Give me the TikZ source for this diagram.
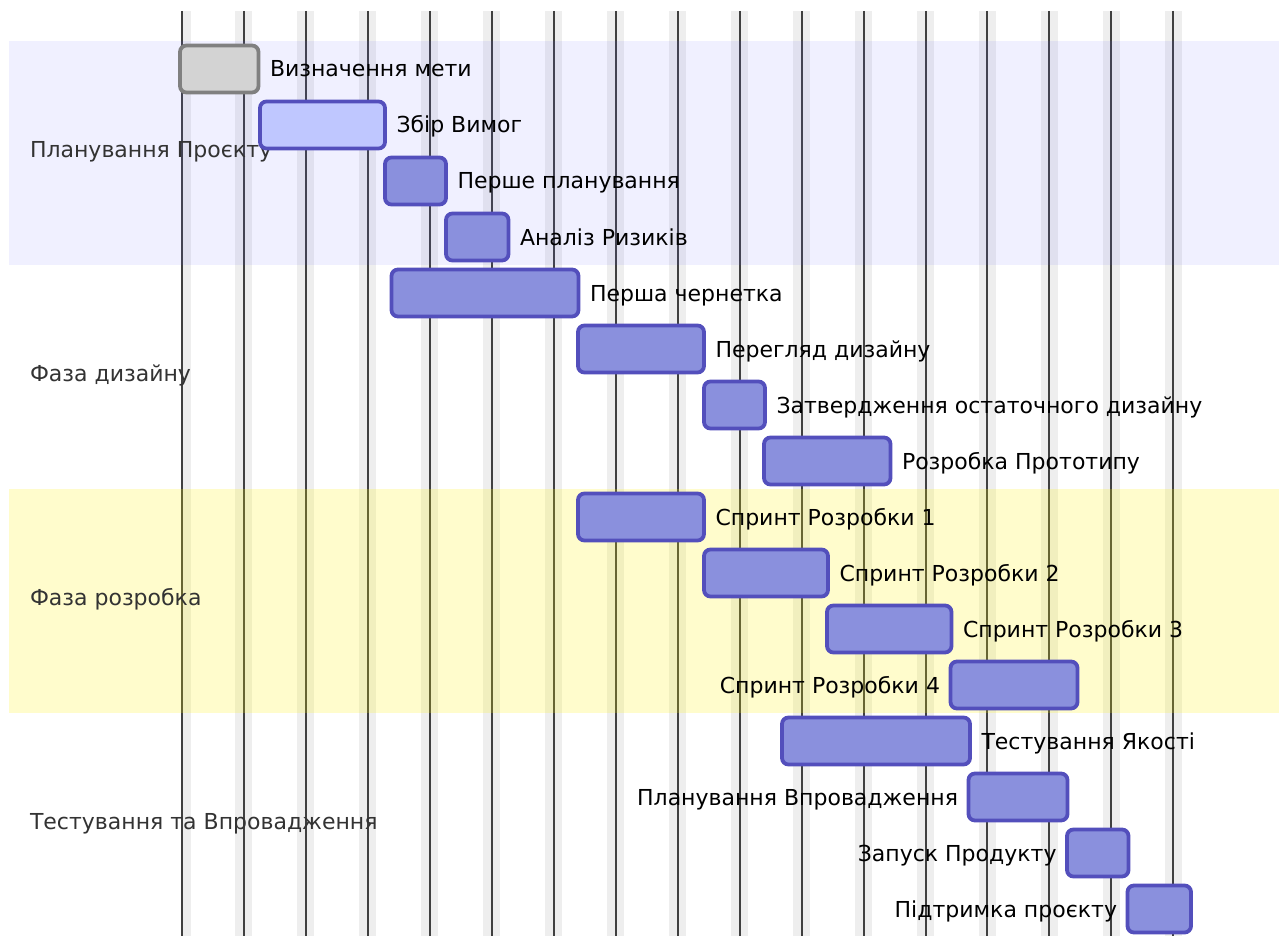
\documentclass[tikz,border=0pt]{standalone}
\usepackage{fontspec}
\setmainfont{DejaVu Sans}

\definecolor{taskfill}{HTML}{8A90DD}
\definecolor{taskline}{HTML}{534FBC}
\definecolor{activefill}{HTML}{BFC7FF}
\definecolor{donefill}{HTML}{D3D3D3}
\definecolor{doneline}{HTML}{808080}
\definecolor{sectext}{HTML}{333333}
\definecolor{gridband}{HTML}{EEEEEE}
\definecolor{gridrulecol}{HTML}{404040}
\definecolor{secblue}{RGB}{102,102,255}
\definecolor{secyellow}{HTML}{FFF400}

\tikzset{
  taskbar/.style={draw=taskline, fill=taskfill, line width=3.8pt,
    rounded corners=6.5pt, minimum height=47pt, inner sep=0pt, outer sep=0pt},
  activebar/.style={taskbar, fill=activefill},
  donebar/.style={taskbar, draw=doneline, fill=donefill},
  tasklabel/.style={inner sep=0pt, outer sep=0pt, text=black,
    font=\fontsize{22}{26}\selectfont},
  seclabel/.style={inner sep=0pt, outer sep=0pt, text=sectext,
    font=\fontsize{22}{26}\selectfont, anchor=base west},
  gridrule/.style={draw=gridrulecol, line width=2pt},
}

% bar: name, style, left x, right x, row
\newcommand\ganttbar[5]{%
  \pgfmathsetmacro\gbw{#4-#3}%
  \pgfmathsetmacro\gbx{(#3+#4)/2}%
  \pgfmathsetmacro\gby{69+56*(#5-1)}%
  \node[#2, minimum width=\gbw pt] (#1) at (\gbx,\gby) {};%
}
% label to the right / left of a bar
\newcommand\rlabel[2]{\node[tasklabel, anchor=base west] (#1-l) at ([xshift=11.5pt, yshift=-8pt]#1.east) {#2};}
\newcommand\llabel[2]{\node[tasklabel, anchor=base east] (#1-l) at ([xshift=-10.5pt, yshift=-8pt]#1.west) {#2};}

\begin{document}
\begin{tikzpicture}[x=1pt,y=-1pt]
\useasboundingbox[fill=white] (0,0) rectangle (1279,936);

% week grid
\foreach \k in {0,...,16} {
  \pgfmathsetmacro\gx{182+61.96*\k}
  \pgfmathsetmacro\gl{max(181,\gx-8.5)}
  \fill[gridband] (\gl,11) rectangle (\gx+8.5,936);
  \draw[gridrule] (\gx,11) -- (\gx,936);
}

% section backgrounds
\fill[secblue, fill opacity=0.098] (9,41) rectangle (1279,265);
\fill[secyellow, fill opacity=0.2] (9,489) rectangle (1279,713);

% section titles
\node[seclabel] (s1) at (30,157.5) {Планування Проєкту};
\node[seclabel] (s2) at (30,381.5) {Фаза дизайну};
\node[seclabel] (s3) at (30,605.5) {Фаза розробка};
\node[seclabel] (s4) at (30,829.5) {Тестування та Впровадження};

% tasks
\ganttbar{t1}{donebar}{180}{258.5}{1}      \rlabel{t1}{Визначення мети}
\ganttbar{t2}{activebar}{260}{385}{2}      \rlabel{t2}{Збір Вимог}
\ganttbar{t3}{taskbar}{385}{446}{3}        \rlabel{t3}{Перше планування}
\ganttbar{t4}{taskbar}{446}{508.5}{4}      \rlabel{t4}{Аналіз Ризиків}
\ganttbar{t5}{taskbar}{391.5}{578.5}{5}    \rlabel{t5}{Перша чернетка}
\ganttbar{t6}{taskbar}{578}{704}{6}        \rlabel{t6}{Перегляд дизайну}
\ganttbar{t7}{taskbar}{704}{765}{7}        \rlabel{t7}{Затвердження остаточного дизайну}
\ganttbar{t8}{taskbar}{764}{890.5}{8}      \rlabel{t8}{Розробка Прототипу}
\ganttbar{t9}{taskbar}{578}{704}{9}        \rlabel{t9}{Спринт Розробки 1}
\ganttbar{t10}{taskbar}{704}{828}{10}      \rlabel{t10}{Спринт Розробки 2}
\ganttbar{t11}{taskbar}{827}{951.5}{11}    \rlabel{t11}{Спринт Розробки 3}
\ganttbar{t12}{taskbar}{950.5}{1077.5}{12} \llabel{t12}{Спринт Розробки 4}
\ganttbar{t13}{taskbar}{782}{970}{13}      \rlabel{t13}{Тестування Якості}
\ganttbar{t14}{taskbar}{968.5}{1067.5}{14} \llabel{t14}{Планування Впровадження}
\ganttbar{t15}{taskbar}{1067}{1128.5}{15}  \llabel{t15}{Запуск Продукту}
\ganttbar{t16}{taskbar}{1127.5}{1191}{16}  \llabel{t16}{Підтримка проєкту}
\end{tikzpicture}
\end{document}
